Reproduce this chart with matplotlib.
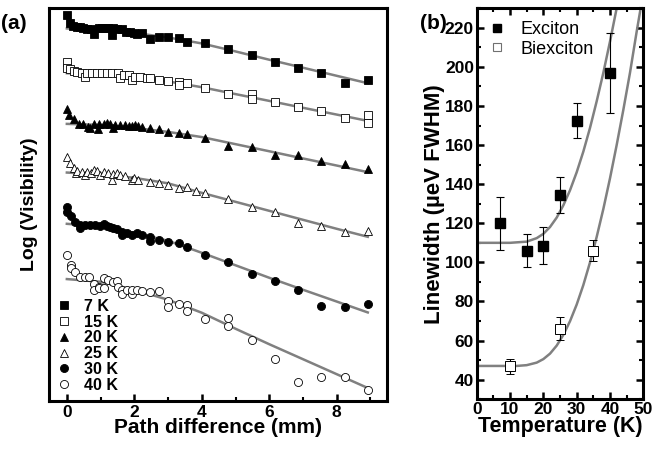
import matplotlib
matplotlib.use('Agg')
import matplotlib.pyplot as plt
from matplotlib.ticker import MultipleLocator, NullLocator
from matplotlib.lines import Line2D
import numpy as np

plt.rcParams['font.family'] = ['Liberation Sans', 'DejaVu Sans']
plt.rcParams['font.weight'] = 'bold'

# ---- panel (a): log visibility (arb. units) vs path difference (mm)
x7 = [0.0, 0.10, 0.18, 0.30, 0.39, 0.49, 0.61, 0.71, 0.81, 0.94, 1.04, 1.13, 1.23, 1.33, 1.38,
      1.48, 1.63, 1.76, 1.88, 2.00, 2.07, 2.22, 2.47, 2.74, 3.01, 3.31, 3.57, 4.10, 4.79, 5.48,
      6.17, 6.86, 7.54, 8.24, 8.92]
y7 = [38.6, 37.8, 37.5, 37.4, 37.4, 37.3, 37.2, 37.2, 36.7, 37.3, 37.3, 37.3, 37.3, 36.6, 37.3,
      37.2, 37.2, 36.9, 36.9, 36.8, 36.7, 36.8, 36.2, 36.4, 36.4, 36.3, 35.9, 35.8, 35.2, 34.6,
      33.9, 33.3, 32.8, 31.8, 32.1]

x15 = [0.0, 0.0, 0.10, 0.20, 0.31, 0.44, 0.54, 0.61, 0.74, 0.89, 1.04, 1.19, 1.33, 1.53, 1.58,
       1.68, 1.83, 1.93, 2.02, 2.17, 2.37, 2.47, 2.74, 3.01, 3.31, 3.31, 3.57, 4.10, 4.79, 5.48,
       5.48, 6.17, 6.86, 7.54, 8.24, 8.92, 8.92]
y15 = [33.93, 33.27, 33.17, 33.03, 32.93, 32.77, 32.43, 32.77, 32.83, 32.83, 32.83, 32.83, 32.77,
       32.83, 32.27, 32.6, 32.6, 32.1, 32.43, 32.43, 32.33, 32.27, 32.1, 32.03, 31.93, 31.6, 31.83,
       31.27, 30.67, 30.67, 30.2, 29.87, 29.37, 29.0, 28.33, 28.6, 27.8]

x20 = [0.0, 0.07, 0.20, 0.35, 0.49, 0.64, 0.69, 0.79, 0.93, 0.94, 1.09, 1.19, 1.28, 1.38, 1.43,
       1.58, 1.73, 1.83, 1.93, 2.02, 2.12, 2.22, 2.47, 2.74, 3.01, 3.31, 3.57, 4.10, 4.79, 5.48,
       6.17, 6.86, 7.54, 8.24, 8.92]
y20 = [29.17, 28.6, 28.17, 27.7, 27.7, 27.43, 27.33, 27.7, 27.2, 27.7, 27.7, 27.83, 27.7, 27.27,
       27.6, 27.6, 27.6, 27.5, 27.5, 27.6, 27.5, 27.43, 27.27, 27.17, 26.93, 26.83, 26.7, 26.27,
       25.53, 25.43, 24.6, 24.6, 24.0, 23.67, 23.17]

x25 = [0.0, 0.10, 0.21, 0.27, 0.31, 0.44, 0.54, 0.59, 0.71, 0.79, 0.89, 0.99, 1.09, 1.23, 1.34,
       1.38, 1.48, 1.58, 1.73, 1.93, 1.98, 2.12, 2.47, 2.74, 3.01, 3.31, 3.57, 3.84, 4.10, 4.79,
       5.48, 6.17, 6.86, 7.54, 8.24, 8.92]
y25 = [24.43, 23.77, 23.27, 22.77, 23.03, 22.93, 22.6, 22.93, 22.77, 23.1, 23.03, 22.6, 22.93,
       22.77, 22.1, 22.7, 22.77, 22.6, 22.5, 22.1, 22.27, 22.1, 21.93, 21.77, 21.6, 21.27, 21.43,
       21.03, 20.77, 20.2, 19.37, 18.87, 17.83, 17.5, 16.93, 17.03]

x30 = [0.0, 0.0, 0.12, 0.25, 0.40, 0.40, 0.54, 0.69, 0.84, 0.99, 1.09, 1.19, 1.28, 1.38, 1.48,
       1.63, 1.63, 1.78, 1.93, 2.07, 2.22, 2.47, 2.47, 2.74, 3.01, 3.31, 3.57, 4.10, 4.79, 5.48,
       6.17, 6.86, 7.54, 8.24, 8.92]
y30 = [19.37, 18.93, 18.5, 17.93, 17.27, 17.6, 17.6, 17.6, 17.6, 17.5, 17.7, 17.5, 17.43, 17.27,
       17.17, 16.93, 16.6, 16.83, 16.6, 16.77, 16.6, 16.43, 15.93, 16.03, 15.83, 15.77, 15.37,
       14.6, 13.87, 12.7, 12.0, 11.1, 9.5, 9.4, 9.7]

x40 = [0.0, 0.12, 0.12, 0.25, 0.40, 0.54, 0.67, 0.81, 0.81, 0.94, 0.94, 1.09, 1.09, 1.23, 1.38,
       1.48, 1.53, 1.63, 1.63, 1.78, 1.93, 1.93, 2.07, 2.22, 2.47, 2.74, 3.01, 3.01, 3.31, 3.57,
       3.57, 4.10, 4.79, 4.79, 5.48, 6.17, 6.86, 7.54, 8.24, 8.92]
y40 = [14.6, 13.6, 13.27, 12.83, 12.37, 12.37, 12.37, 11.7, 11.1, 11.37, 11.27, 11.27, 12.27,
       12.03, 11.83, 11.93, 11.37, 11.1, 10.7, 11.1, 10.7, 11.1, 11.03, 10.93, 10.83, 10.93, 9.93,
       9.37, 9.7, 9.6, 8.93, 8.2, 8.27, 7.5, 6.1, 4.17, 1.83, 2.37, 2.37, 1.1]

# fitted curves
fit_x = [0, 1, 2, 3, 4, 5, 6, 7, 8, 8.92]
fit7 = [37.25, 37.1, 36.8, 36.35, 35.75, 34.95, 34.12, 33.32, 32.51, 31.77]
fit15 = [32.77, 32.65, 32.35, 31.95, 31.37, 30.68, 30.0, 29.31, 28.63, 28.0]
fit20 = [27.7, 27.6, 27.3, 26.9, 26.38, 25.67, 24.96, 24.24, 23.53, 22.87]
fit25 = [22.83, 22.65, 22.3, 21.75, 20.8, 19.9, 19.0, 18.1, 17.2, 16.4]
fit30 = [17.7, 17.45, 16.8, 16.0, 14.8, 13.55, 12.3, 11.1, 9.92, 8.83]
fit40 = [12.17, 11.9, 11.1, 10.1, 8.8, 7.2, 5.65, 4.15, 2.65, 1.27]

labels_a = ['7 K', '15 K', '20 K', '25 K', '30 K', '40 K']

# ---- panel (b): linewidth vs temperature
T_exc = [7, 15, 20, 25, 30, 40]
G_exc = [120, 106, 108.5, 134.5, 172.5, 197]
E_exc = [13.5, 8.5, 9.5, 9.3, 9, 20.6]
T_bix = [10, 25, 35]
G_bix = [46.8, 66, 106]
E_bix = [4, 5.8, 5.3]

Tc_exc = [0, 5, 10, 15, 18, 20, 22, 24, 26, 28, 30, 32, 34, 36, 38, 40, 42, 43]
Gc_exc = [110, 110, 110, 110.6, 112.4, 114.6, 118.1, 122.9, 129.2, 136.9, 146.1, 156.7, 168.8,
          182.4, 197, 213, 230, 239]
Tc_bix = [0, 5, 10, 12, 15, 18, 20, 22, 24, 26, 28, 30, 32, 34, 36, 38, 40, 42, 44, 46, 48, 49, 50]
Gc_bix = [47, 47, 47, 47, 47.4, 48.7, 50.5, 53.3, 57.4, 62.9, 69.9, 78.4, 88.4, 100, 113, 127.3,
          143, 160, 178, 197, 218, 228, 238.6]

fig = plt.figure(figsize=(6.69, 4.49), dpi=100)
ax1 = fig.add_axes([0.0737, 0.1076, 0.5053, 0.874])
ax2 = fig.add_axes([0.7126, 0.111, 0.249, 0.8705])

gray = '#808080'
series = [(x7, y7, fit7, 's', 'black'), (x15, y15, fit15, 's', 'white'),
          (x20, y20, fit20, '^', 'black'), (x25, y25, fit25, '^', 'white'),
          (x30, y30, fit30, 'o', 'black'), (x40, y40, fit40, 'o', 'white')]
handles = []
for (xs, ys, fit, m, fc), lab in zip(series, labels_a):
    ax1.plot(fit_x, fit, color=gray, lw=1.8, zorder=2)
    ms = 5.2 if m == 's' else 5.8
    h, = ax1.plot(xs, ys, ls='none', marker=m, ms=ms, mfc=fc, mec='black', mew=0.6,
                  zorder=3, label=lab)
    handles.append(h)

ax1.set_xlim(-0.52, 9.5)
ax1.set_ylim(0, 39.27)
ax1.xaxis.set_major_locator(MultipleLocator(2))
ax1.xaxis.set_minor_locator(MultipleLocator(1))
ax1.yaxis.set_major_locator(NullLocator())
ax1.tick_params(axis='x', which='major', direction='in', length=5, width=1.8, labelsize=12.5, pad=3)
ax1.tick_params(axis='x', which='minor', direction='in', length=3, width=1.5)
for sp in ax1.spines.values():
    sp.set_linewidth(2.2)
ax1.set_xlabel('Path difference (mm)', fontsize=15, fontweight='bold', labelpad=-1)
ax1.set_ylabel('Log (Visibility)', fontsize=14, fontweight='bold', labelpad=8)
leg = ax1.legend(handles=handles, loc='lower left', frameon=False, fontsize=11.5,
                 handlelength=0.8, handletextpad=0.9, labelspacing=0.05,
                 borderaxespad=0.2, borderpad=0.3)
for t in leg.get_texts():
    t.set_fontweight('bold')
fig.text(0.002, 0.935, '(a)', fontsize=15, fontweight='bold')

# panel (b)
ax2.plot(Tc_exc, Gc_exc, color=gray, lw=1.8, zorder=2)
ax2.plot(Tc_bix, Gc_bix, color=gray, lw=1.8, zorder=2)
ax2.errorbar(T_exc, G_exc, yerr=E_exc, fmt='s', ms=7, mfc='black', mec='black',
             ecolor='black', elinewidth=0.8, capsize=3, capthick=0.8, zorder=3)
ax2.errorbar(T_bix, G_bix, yerr=E_bix, fmt='s', ms=7, mfc='white', mec='black', mew=0.7,
             ecolor='black', elinewidth=0.8, capsize=3, capthick=0.8, zorder=3)
ax2.set_xlim(0, 50)
ax2.set_ylim(30, 230)
ax2.xaxis.set_major_locator(MultipleLocator(10))
ax2.xaxis.set_minor_locator(MultipleLocator(5))
ax2.yaxis.set_major_locator(MultipleLocator(20))
ax2.yaxis.set_minor_locator(MultipleLocator(10))
ax2.set_yticks(np.arange(40, 221, 20))
ax2.tick_params(which='major', direction='in', length=5, width=1.8, labelsize=12.5,
                top=True, right=True, pad=2)
ax2.tick_params(which='minor', direction='in', length=3, width=1.5, top=True, right=True)
for sp in ax2.spines.values():
    sp.set_linewidth(2.2)
ax2.set_xlabel('Temperature (K)', fontsize=15.5, fontweight='bold', labelpad=-1)
ax2.set_ylabel('Linewidth (\u00b5eV FWHM)', fontsize=16, fontweight='bold', labelpad=0)
leg_handles = [Line2D([], [], ls='none', marker='s', ms=6, mfc='black', mec='black'),
               Line2D([], [], ls='none', marker='s', ms=6, mfc='white', mec='#707070', mew=0.8)]
leg2 = ax2.legend(leg_handles, ['Exciton', 'Biexciton'], loc='upper left', frameon=False,
                  fontsize=13, handlelength=0.8, handletextpad=0.9, labelspacing=0.15,
                  borderaxespad=0.3)
for t in leg2.get_texts():
    t.set_fontweight('normal')
fig.text(0.628, 0.935, '(b)', fontsize=15, fontweight='bold')

plt.savefig('out.png', dpi=100)
